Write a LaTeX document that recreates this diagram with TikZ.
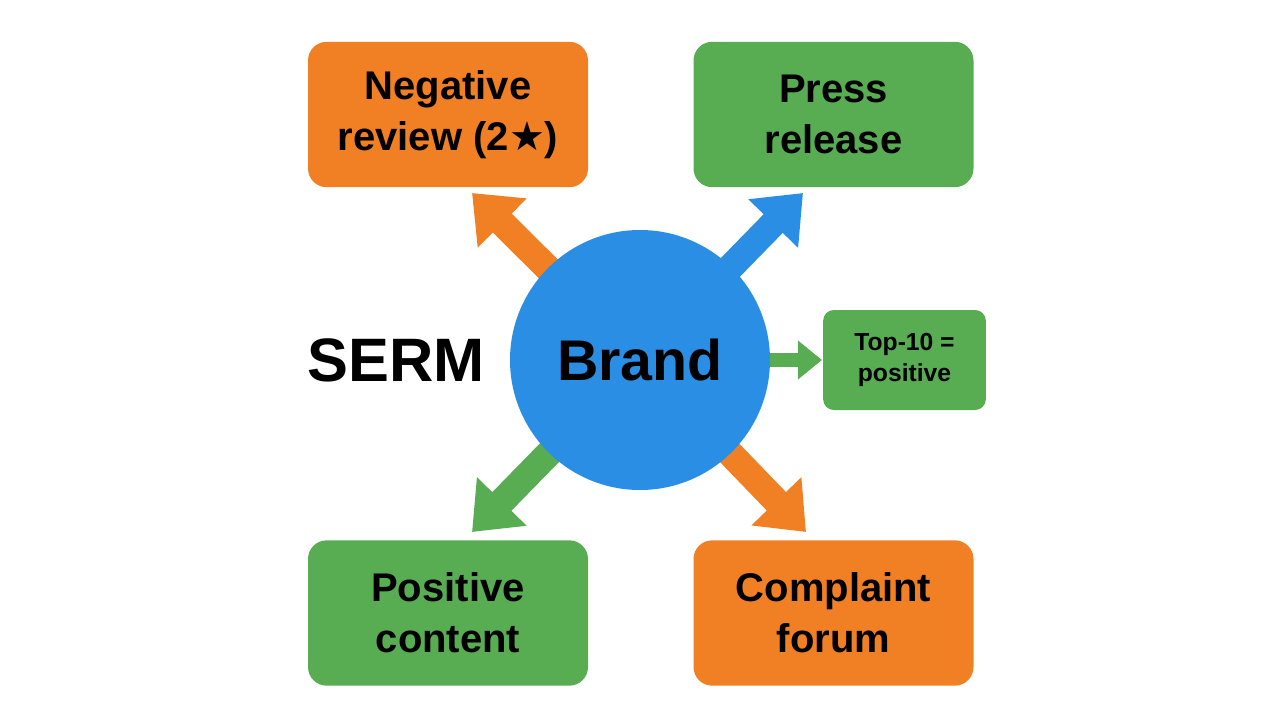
\documentclass[tikz,border=0pt]{standalone}
\usepackage{fontspec}
\setmainfont{Liberation Sans}
\newfontfamily\symfont{DejaVu Sans}
\usetikzlibrary{arrows.meta}
\definecolor{serorange}{RGB}{241,128,36}
\definecolor{sergreen}{RGB}{88,172,82}
\definecolor{serblue}{RGB}{42,142,228}
\tikzset{
  box/.style={rounded corners=14pt, minimum width=210pt, minimum height=109pt, align=center,
    font=\fontsize{30}{38}\selectfont\bfseries, inner sep=0pt},
  fatarrow/.style={line width=20pt, -{Triangle[length=32pt, width=50pt]}},
}
\begin{document}
\begin{tikzpicture}[x=0.75pt,y=0.75pt,yscale=-1,xscale=1]
\useasboundingbox (0,0) rectangle (1280,720);

% boxes
\node (neg) [box, fill=serorange] at (448,114.5) {Negative\\review (2{\symfont★})};
\node (press) [box, fill=sergreen] at (833.5,114.5) {Press\\release};
\node (pos) [box, fill=sergreen] at (448,613) {Positive\\content};
\node (forum) [box, fill=serorange] at (833.5,613) {Complaint\\forum};
\node (top) [box, fill=sergreen, minimum width=122pt, minimum height=75pt, rounded corners=8pt,
  font=\fontsize{18.5}{23}\selectfont\bfseries] at (904.5,360) {Top-10 =\\positive};

% tips
\coordinate (tneg) at (472,193);
\coordinate (tpress) at (803,193);
\coordinate (tpos) at (472,532);
\coordinate (tforum) at (806,532);
\coordinate (ttop) at (822,360);

% arrows
\draw [fatarrow, serorange] (640,360) -- (tneg);
\draw [fatarrow, serblue] (640,360) -- (tpress);
\draw [fatarrow, sergreen] (640,360) -- (tpos);
\draw [fatarrow, serorange] (640,360) -- (tforum);
\draw [sergreen, line width=11pt, -{Triangle[length=18pt, width=28pt]}] (740,360) -- (ttop);

% centre
\node (brand) [circle, fill=serblue, minimum size=195pt, inner sep=0pt,
  font=\fontsize{43}{43}\selectfont\bfseries] at (640,360) {Brand};
\node (serm) [font=\fontsize{46}{46}\selectfont\bfseries] at (396,360) {SERM};

\end{tikzpicture}
\end{document}
